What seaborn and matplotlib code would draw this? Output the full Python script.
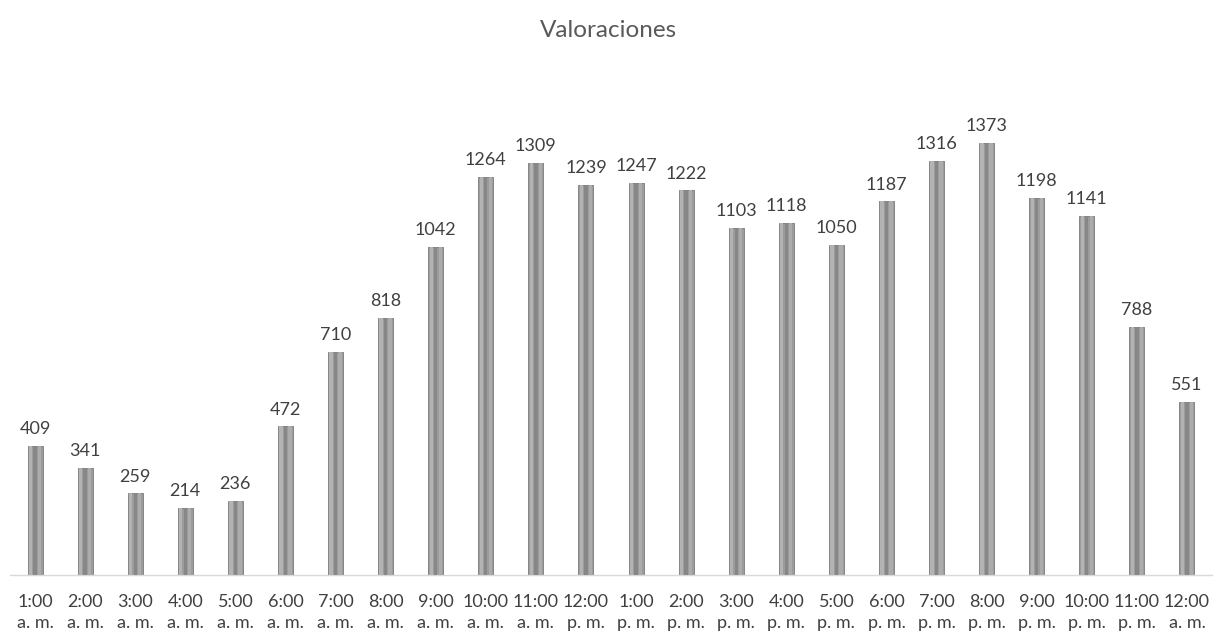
import matplotlib
matplotlib.use("Agg")
import matplotlib.pyplot as plt
import seaborn as sns
import pandas as pd
import numpy as np

horas = ["1:00", "2:00", "3:00", "4:00", "5:00", "6:00", "7:00", "8:00", "9:00", "10:00", "11:00", "12:00",
         "1:00", "2:00", "3:00", "4:00", "5:00", "6:00", "7:00", "8:00", "9:00", "10:00", "11:00", "12:00"]
periodos = ["a. m."] * 11 + ["p. m."] * 12 + ["a. m."]
valoraciones = [409, 341, 259, 214, 236, 472, 710, 818, 1042, 1264, 1309, 1239,
                1247, 1222, 1103, 1118, 1050, 1187, 1316, 1373, 1198, 1141, 788, 551]

etiquetas = [f"{h}\n{p}" for h, p in zip(horas, periodos)]
df = pd.DataFrame({"hora": etiquetas, "valor": valoraciones})

sns.set_theme(style="white")
plt.rcParams["font.family"] = ["Lato", "DejaVu Sans"]

fig = plt.figure(figsize=(12.17, 6.4), dpi=100)
ax = fig.add_axes([0.0082, 0.1016, 0.9877, 0.7866])

bar_w = 0.30
sns.barplot(data=df, x="hora", y="valor", color="#9c9c9c", width=bar_w,
            edgecolor="#7a7a7a", linewidth=0.6, saturation=1, ax=ax)

# bevel shading: lighter sides and a darker central ridge
x = np.arange(len(valoraciones))
vals = np.array(valoraciones)
ax.bar(x - bar_w * 0.30, vals, width=bar_w * 0.22, color="#b3b3b3", linewidth=0, zorder=3)
ax.bar(x + bar_w * 0.30, vals, width=bar_w * 0.22, color="#acacac", linewidth=0, zorder=3)
ax.bar(x, vals, width=bar_w * 0.22, color="#878787", linewidth=0, zorder=3)

for xi, v in zip(x, valoraciones):
    ax.text(xi, v + 28, str(v), ha="center", va="bottom", fontsize=13, color="#404040")

ax.set_ylim(0, 1600)
ax.set_xlim(-0.5, len(valoraciones) - 0.5)
ax.set_xlabel("")
ax.set_ylabel("")
ax.set_yticks([])
ax.tick_params(axis="x", length=0, pad=14, labelsize=13, labelcolor="#404040")
for lbl in ax.get_xticklabels():
    lbl.set_linespacing(1.36)

for s in ["top", "right", "left"]:
    ax.spines[s].set_visible(False)
ax.spines["bottom"].set_color("#d9d9d9")
ax.spines["bottom"].set_linewidth(1.0)

fig.text(0.5, 0.952, "Valoraciones", ha="center", va="center", fontsize=17.5, color="#595959")

fig.savefig("out.png", dpi=100, facecolor="white")
